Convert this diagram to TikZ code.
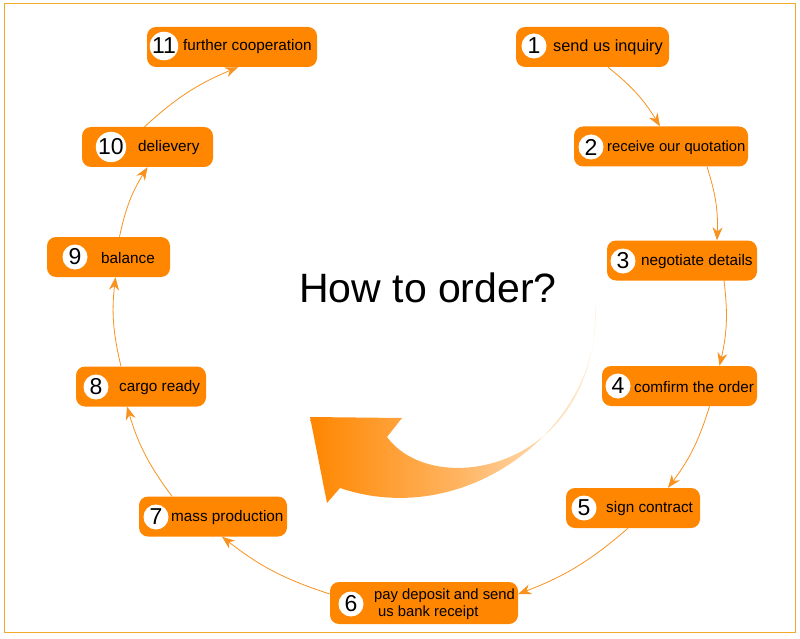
\documentclass[tikz,border=0pt]{standalone}
\usepackage{fontspec}
\setmainfont{Liberation Sans}
\usetikzlibrary{arrows.meta}
\definecolor{ora}{RGB}{255,134,0}
\definecolor{lineora}{RGB}{247,146,30}
\definecolor{framecol}{RGB}{240,172,40}
\tikzset{
  box/.style={fill=ora, rounded corners=9pt, minimum height=40pt, inner sep=0pt},
  numc/.style={circle, fill=white, minimum size=25pt, inner sep=0pt, font=\fontsize{23}{23}\selectfont},
  lbl/.style={anchor=west, inner sep=0pt, font=\fontsize{15.3}{15.3}\selectfont},
  conn/.style={draw=lineora, line width=0.8pt, -{Stealth[length=13pt,width=10pt]}, bend left=10}
}
\begin{document}
\begin{tikzpicture}[x=1pt,y=-1pt]
\useasboundingbox (0,0) rectangle (800,639);
\draw[framecol, line width=1.5pt] (4.5,3.5) rectangle (795.5,632.5);
% boxes
\node[box, minimum width=153pt] (b1) at (592.5,47) {};
\node[box, minimum width=174pt] (b2) at (661,146.5) {};
\node[box, minimum width=150pt] (b3) at (682,260.5) {};
\node[box, minimum width=155pt] (b4) at (679.5,386) {};
\node[box, minimum width=134pt] (b5) at (633,508) {};
\node[box, minimum width=188pt, minimum height=42pt] (b6) at (424,603) {};
\node[box, minimum width=148pt] (b7) at (213,516.5) {};
\node[box, minimum width=130pt] (b8) at (141,386.5) {};
\node[box, minimum width=123pt] (b9) at (108.5,257) {};
\node[box, minimum width=131pt] (b10) at (147.5,147) {};
\node[box, minimum width=170pt] (b11) at (232,47) {};
% number circles
\node[numc] (n1) at (534,46) {1};
\node[numc] (n2) at (591,147) {2};
\node[numc] (n3) at (623,261) {3};
\node[numc] (n4) at (618,386) {4};
\node[numc] (n5) at (584,508) {5};
\node[numc] (n6) at (351,604) {6};
\node[numc] (n7) at (156,517) {7};
\node[numc] (n8) at (96,387) {8};
\node[numc] (n9) at (75,257) {9};
\node[numc] (n10) at (111,147) {10};
\node[numc] (n11) at (164,46) {11};
% labels
\node[lbl, font=\fontsize{16.3}{16.3}\selectfont] (l1) at (553,47) {send us inquiry};
\node[lbl, font=\fontsize{14.8}{14.8}\selectfont] (l2) at (607,148) {receive our quotation};
\node[lbl] (l3) at (641,262) {negotiate details};
\node[lbl] (l4) at (634,387) {comfirm the order};
\node[lbl] (l5) at (606,509) {sign contract};
\node[lbl, align=left, font=\fontsize{14.8}{17}\selectfont] (l6) at (374,604) {pay deposit and send\\\hspace*{4pt}us bank receipt};
\node[lbl] (l7) at (171,518) {mass production};
\node[lbl] (l8) at (119,388) {cargo ready};
\node[lbl] (l9) at (101,258) {balance};
\node[lbl] (l10) at (138,148) {delievery};
\node[lbl] (l11) at (183,47) {further cooperation};
% connectors
\draw[conn] ([xshift=15.5pt]b1.south) to ([xshift=-1pt]b2.north);
\draw[conn] ([xshift=46pt]b2.south) to ([xshift=35pt]b3.north);
\draw[conn] ([xshift=42pt]b3.south) to ([xshift=40pt]b4.north);
\draw[conn] ([xshift=30pt]b4.south) to ([xshift=35pt]b5.north);
\draw[conn] ([xshift=-5pt]b5.south) to ([yshift=9pt]b6.east);
\draw[conn] ([yshift=9pt]b6.west) to ([xshift=9pt]b7.south);
\draw[conn] ([xshift=-41pt]b7.north) to ([xshift=-14pt]b8.south);
\draw[conn] ([xshift=-20pt]b8.north) to ([xshift=7pt]b9.south);
\draw[conn] ([xshift=11pt]b9.north) to (b10.south);
\draw[conn] ([xshift=-3pt]b10.north) to ([xshift=6pt]b11.south);
% title
\node[font=\fontsize{41}{41}\selectfont] (title) at (428,288) {How to order?};
% big curved arrow
\shade[left color=ora, right color=ora!10, middle color=ora!62]
  (310,417) -- (402,418) -- (387,437)
  .. controls (435,502) and (602,468) .. (595,302)
  .. controls (606,422) and (470,532) .. (340,488)
  -- (327,503) -- cycle;
\end{tikzpicture}
\end{document}
